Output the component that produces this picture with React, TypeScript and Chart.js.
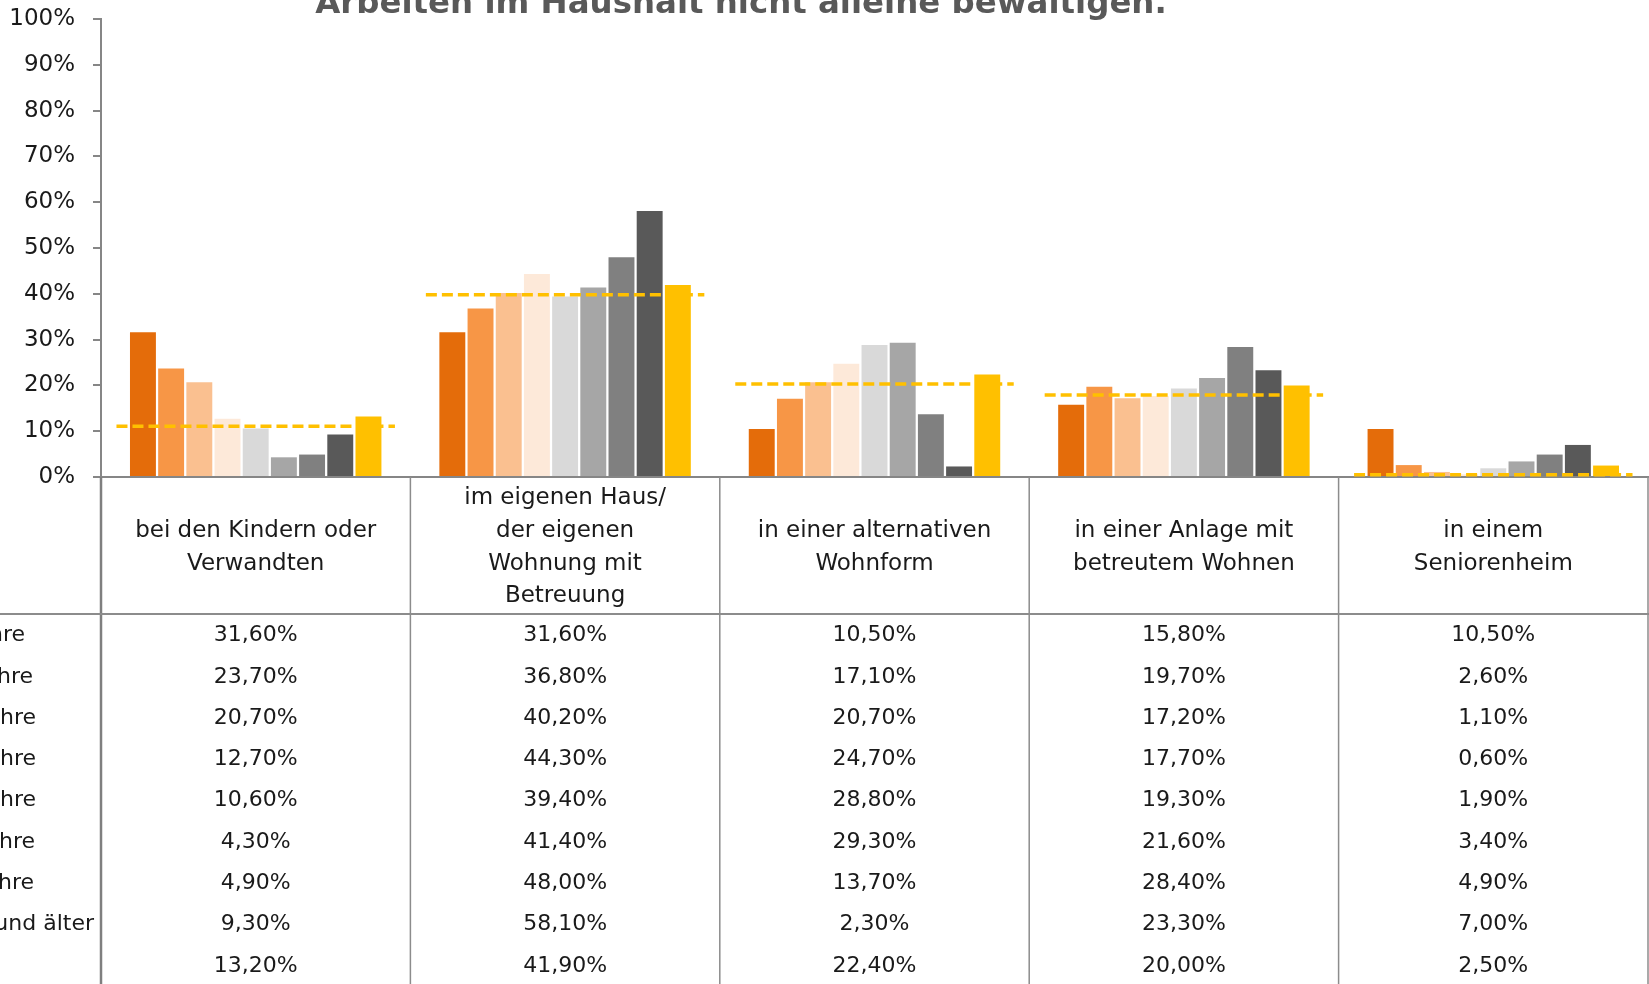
import React, { useEffect, useRef } from "react";
import { Chart, registerables } from "chart.js";

Chart.register(...registerables);

// ---- data ----
const titleText = "Arbeiten im Haushalt nicht alleine bewältigen.";
const categories: string[][] = [
  ["", "bei den Kindern oder", "Verwandten", ""],
  ["im eigenen Haus/", "der eigenen", "Wohnung mit", "Betreuung"],
  ["", "in einer alternativen", "Wohnform", ""],
  ["", "in einer Anlage mit", "betreutem Wohnen", ""],
  ["", "in einem", "Seniorenheim", ""],
];
const seriesLabels = [
  "bis 19 Jahre",
  "20 bis 29 Jahre",
  "30 bis 39 Jahre",
  "40 bis 49 Jahre",
  "50 bis 59 Jahre",
  "60 bis 69 Jahre",
  "70 bis 79 Jahre",
  "80 Jahre und älter",
  "Gesamt",
];
const age1 = [31.6, 31.6, 10.5, 15.8, 10.5];
const age2 = [23.7, 36.8, 17.1, 19.7, 2.6];
const age3 = [20.7, 40.2, 20.7, 17.2, 1.1];
const age4 = [12.7, 44.3, 24.7, 17.7, 0.6];
const age5 = [10.6, 39.4, 28.8, 19.3, 1.9];
const age6 = [4.3, 41.4, 29.3, 21.6, 3.4];
const age7 = [4.9, 48.0, 13.7, 28.4, 4.9];
const age8 = [9.3, 58.1, 2.3, 23.3, 7.0];
const total = [13.2, 41.9, 22.4, 20.0, 2.5];
const referenceLine = [11.1, 39.8, 20.3, 17.9, 0.5];
const yTickValues = [0, 10, 20, 30, 40, 50, 60, 70, 80, 90, 100];

const seriesValues = [age1, age2, age3, age4, age5, age6, age7, age8, total];
const seriesColors = [
  "#E46C0A",
  "#F79646",
  "#FAC090",
  "#FDE9D9",
  "#D9D9D9",
  "#A6A6A6",
  "#808080",
  "#595959",
  "#FFC000",
];
// visible right edge of the clipped row labels (layout only)
const rowLabelRight = [25, 33, 36, 36, 36, 35, 34, 94, -10];

const FONT = '"DejaVu Sans", sans-serif';
const fmt = (v: number) => v.toFixed(2).replace(".", ",") + "%";

const refLinePlugin = {
  id: "refLinePlugin",
  afterDatasetsDraw(chart: any) {
    const { ctx } = chart;
    const xs = chart.scales.x;
    const ys = chart.scales.y;
    const cw = xs.getPixelForValue(1) - xs.getPixelForValue(0);
    ctx.save();
    ctx.strokeStyle = "#FFC000";
    ctx.lineWidth = 3.5;
    ctx.setLineDash([11, 5]);
    referenceLine.forEach((v, i) => {
      const cx = xs.getPixelForValue(i);
      const y = ys.getPixelForValue(v);
      ctx.beginPath();
      ctx.moveTo(cx - 0.45 * cw, y);
      ctx.lineTo(cx + 0.45 * cw, y);
      ctx.stroke();
    });
    ctx.restore();
  },
};

const tablePlugin = {
  id: "tablePlugin",
  afterDraw(chart: any) {
    const { ctx, chartArea } = chart;
    const xs = chart.scales.x;
    const H = chart.height;
    ctx.save();
    // title (only lower part visible)
    ctx.font = `bold 30px ${FONT}`;
    const w0 = ctx.measureText(titleText).width;
    const size = (30 * 852) / w0;
    ctx.font = `bold ${size}px ${FONT}`;
    ctx.fillStyle = "#595959";
    ctx.textAlign = "center";
    ctx.textBaseline = "alphabetic";
    ctx.fillText(titleText, 741, 13);

    // grid lines of the table
    const headerBottom = xs.bottom;
    for (let k = 0; k <= categories.length; k++) {
      const x = Math.min(xs.getPixelForValue(k - 0.5), chart.width - 1);
      ctx.strokeStyle = k === 0 ? "#7F7F7F" : "#8C8C8C";
      ctx.lineWidth = k === 0 ? 2.5 : 1.5;
      ctx.beginPath();
      ctx.moveTo(x, chartArea.bottom);
      ctx.lineTo(x, H);
      ctx.stroke();
    }
    ctx.strokeStyle = "#8C8C8C";
    ctx.lineWidth = 2;
    ctx.beginPath();
    ctx.moveTo(0, headerBottom);
    ctx.lineTo(chart.width, headerBottom);
    ctx.stroke();

    // rows
    const rowH = 41.3;
    const firstRow = headerBottom + 21.5;
    ctx.font = `22px ${FONT}`;
    ctx.fillStyle = "#1a1a1a";
    ctx.textBaseline = "middle";
    seriesValues.forEach((vals, r) => {
      const y = firstRow + r * rowH;
      ctx.textAlign = "center";
      vals.forEach((v, c) => {
        ctx.fillText(fmt(v), xs.getPixelForValue(c), y);
      });
      ctx.textAlign = "right";
      ctx.fillText(seriesLabels[r], rowLabelRight[r], y);
    });
    ctx.restore();
  },
};

export default function App() {
  const ref = useRef<HTMLCanvasElement | null>(null);
  useEffect(() => {
    if (!ref.current) return;
    const barSets = seriesValues.map((vals, i) => ({
      label: seriesLabels[i],
      data: vals,
      backgroundColor: seriesColors[i],
      borderWidth: 0,
    }));
    const chart = new Chart(ref.current, {
      type: "bar",
      data: {
        labels: categories,
        datasets: barSets,
      },
      options: {
        animation: false,
        responsive: false,
        devicePixelRatio: 1,
        datasets: { bar: { categoryPercentage: 0.82, barPercentage: 0.92 } },
        layout: { padding: { top: 19, right: 1, bottom: 370, left: 0 } },
        plugins: { legend: { display: false }, tooltip: { enabled: false } },
        scales: {
          x: {
            type: "category",
            offset: true,
            grid: { display: false },
            border: { display: true, color: "#868686", width: 2 },
            ticks: {
              color: "#1a1a1a",
              font: { family: FONT, size: 23, lineHeight: 1.42 },
              padding: -3,
              maxRotation: 0,
              autoSkip: false,
            },
            afterFit: (s: any) => {
              s.height = 137;
            },
          },
          y: {
            min: 0,
            max: 100,
            afterBuildTicks: (s: any) => {
              s.ticks = yTickValues.map((v) => ({ value: v }));
            },
            ticks: {
              callback: (v: any) => v + "%",
              color: "#1a1a1a",
              font: { family: FONT, size: 23 },
              padding: 18,
            },
            grid: {
              drawOnChartArea: false,
              drawTicks: true,
              tickLength: 8,
              color: "#868686",
              lineWidth: 2,
            },
            border: { display: true, color: "#868686", width: 2 },
            afterFit: (s: any) => {
              s.width = 101;
              s.paddingTop = 0;
              s.paddingBottom = 0;
            },
          },
        },
      },
      plugins: [refLinePlugin, tablePlugin],
    });
    return () => chart.destroy();
  }, []);
  return (
    <div style={{ position: "fixed", left: 0, top: 0, width: 1649, height: 984, background: "#fff" }}>
      <canvas ref={ref} width={1649} height={984} style={{ width: 1649, height: 984, display: "block" }} />
    </div>
  );
}
